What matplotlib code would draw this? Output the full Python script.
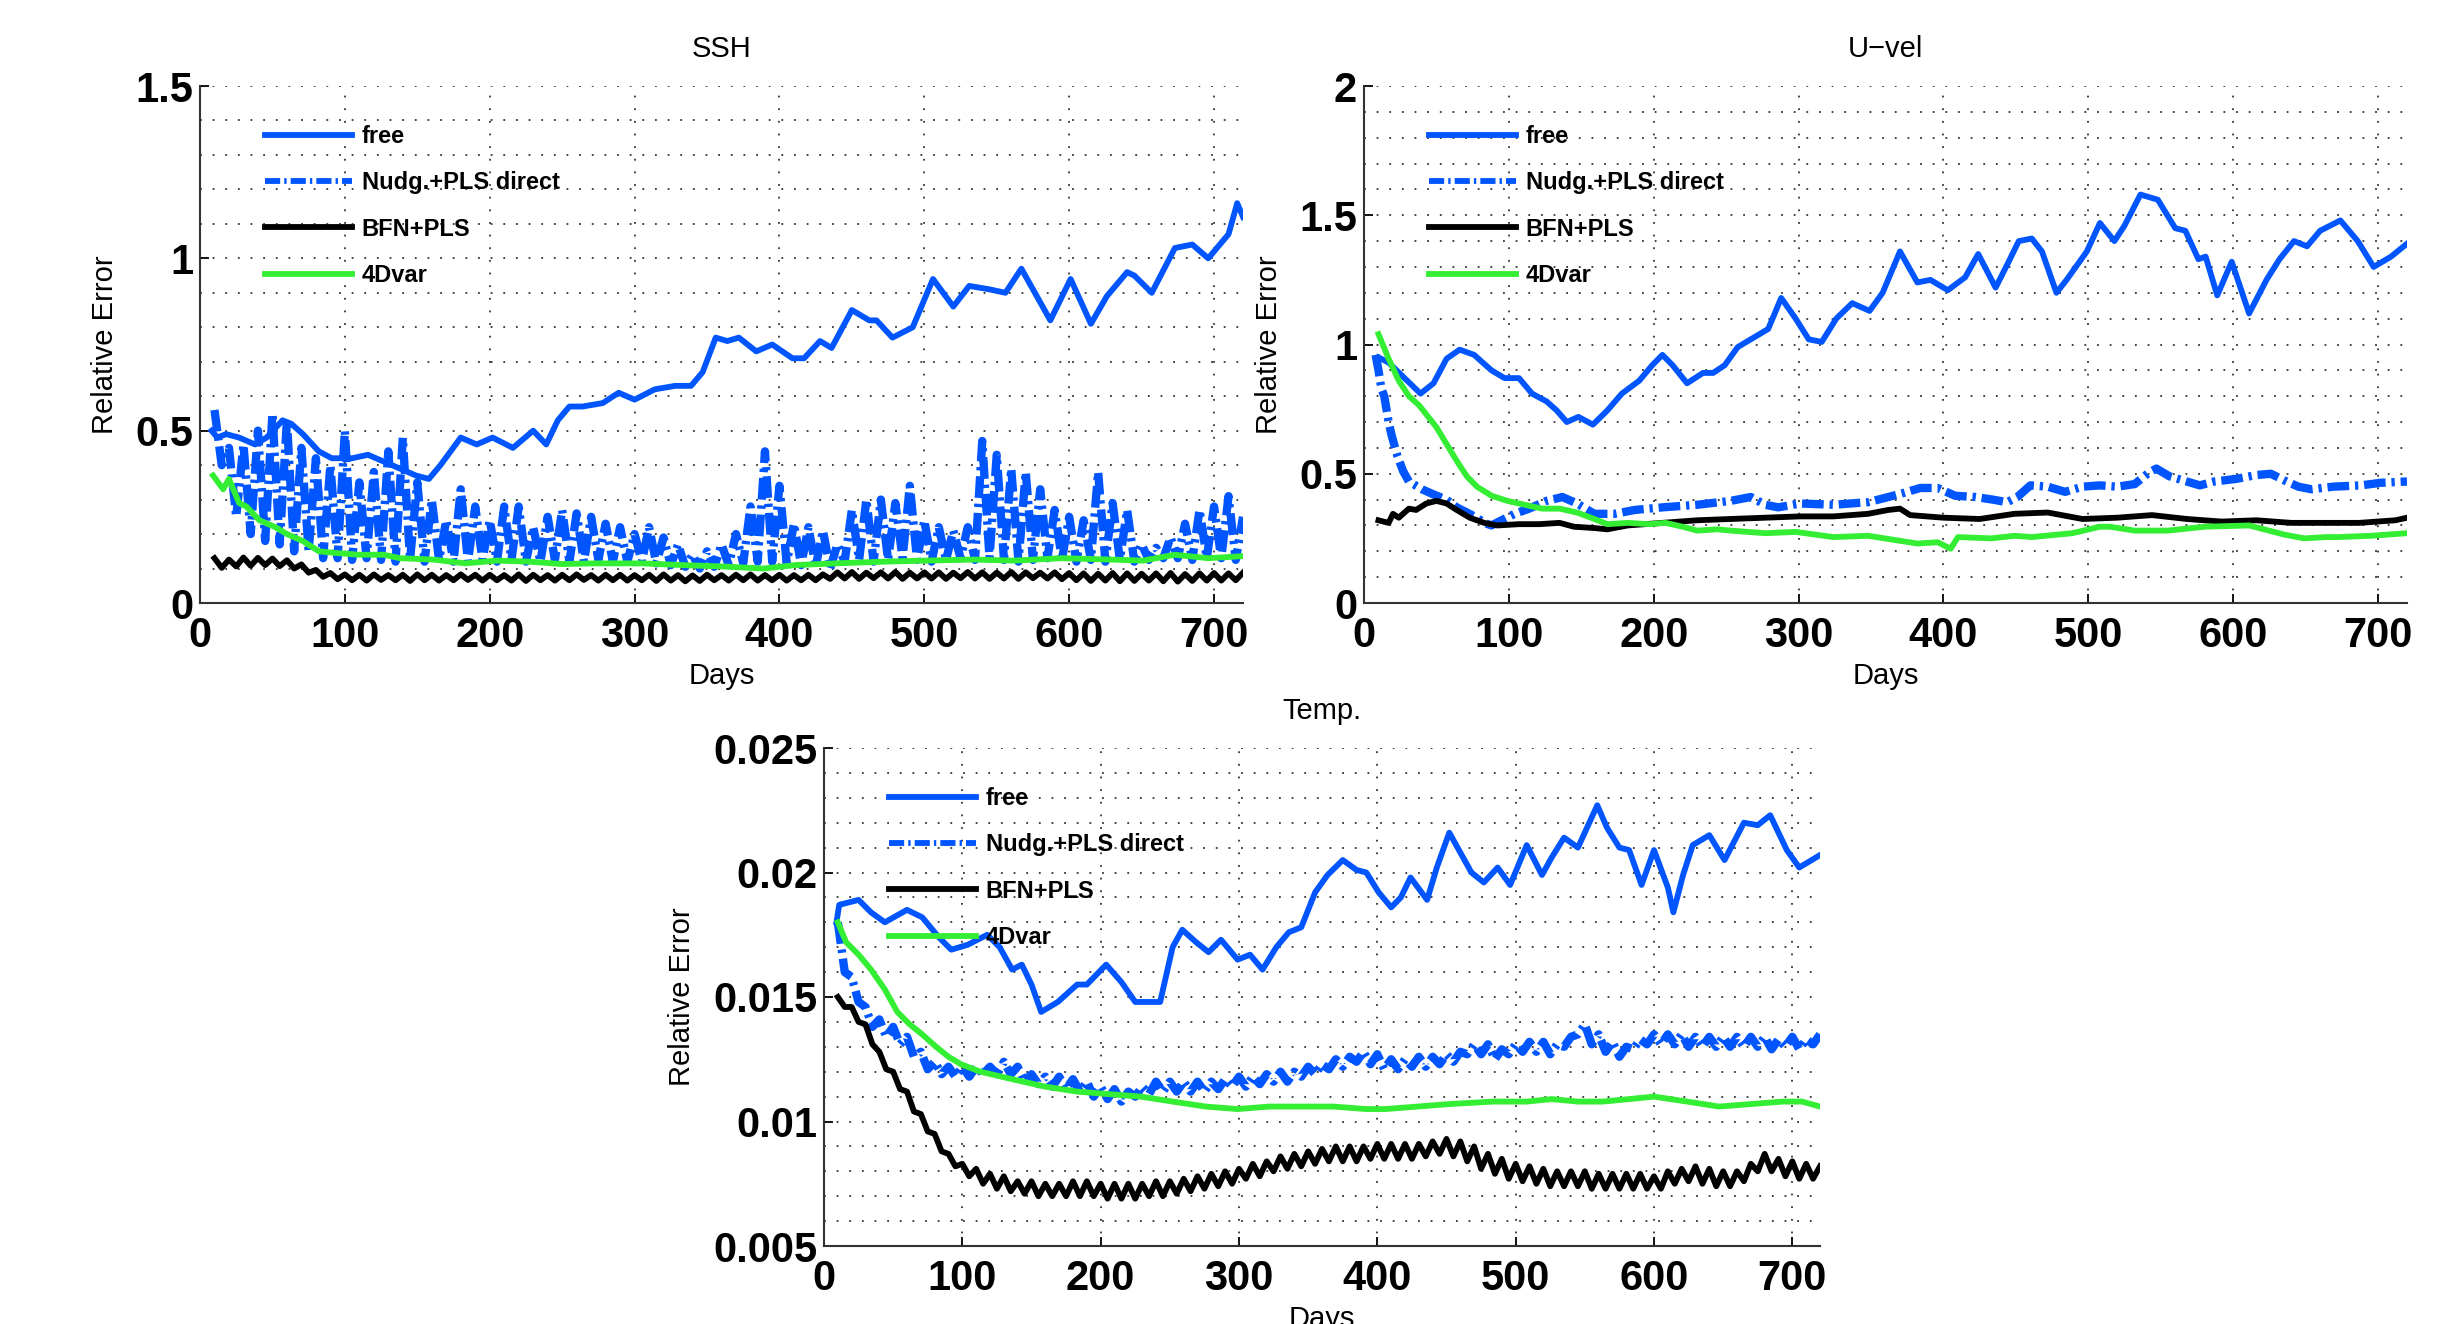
# plot.py
# Relative error of SSH, U-vel and Temp for four assimilation runs

import numpy as np
import matplotlib
matplotlib.use("Agg")
import matplotlib.pyplot as plt
from matplotlib.ticker import MultipleLocator

plt.rcParams['font.family'] = ['Liberation Sans', 'DejaVu Sans']

# === Data ===
# noisy runs are given as peaks (day 10, 20, ...) and troughs (day 15, 25, ...)
peak_days = np.arange(10, 721, 10)
trough_days = np.arange(15, 716, 10)

# --- SSH ---
ssh_free_days = [8, 12, 18, 27, 38, 46, 57, 63, 71, 82, 91, 105, 116, 127, 138, 149, 158, 166, 180, 191,
                 202, 216, 230, 239, 247, 255, 264, 278, 289, 300, 314, 328, 339, 347, 356, 364, 372, 384, 395, 409,
                 417, 428, 436, 450, 462, 467, 478, 492, 506, 520, 531, 545, 556, 567, 579, 587, 601, 615, 626, 640,
                 645, 657, 673, 685, 696, 710, 716, 720]
ssh_free = [0.50, 0.48, 0.49, 0.48, 0.46, 0.48, 0.53, 0.52, 0.49, 0.44, 0.42, 0.42, 0.43, 0.41, 0.39, 0.37, 0.36, 0.40, 0.48, 0.46,
            0.48, 0.45, 0.50, 0.46, 0.53, 0.57, 0.57, 0.58, 0.61, 0.59, 0.62, 0.63, 0.63, 0.67, 0.77, 0.76, 0.77, 0.73, 0.75, 0.71,
            0.71, 0.76, 0.74, 0.85, 0.82, 0.82, 0.77, 0.80, 0.94, 0.86, 0.92, 0.91, 0.90, 0.97, 0.88, 0.82, 0.94, 0.81, 0.89, 0.96,
            0.95, 0.90, 1.03, 1.04, 1.00, 1.07, 1.16, 1.12]

ssh_nudg_peak = [0.56, 0.45, 0.46, 0.50, 0.55, 0.53, 0.45, 0.42, 0.40, 0.50,
                 0.35, 0.38, 0.44, 0.48, 0.35, 0.30, 0.24, 0.33, 0.28, 0.24,
                 0.28, 0.28, 0.22, 0.25, 0.27, 0.26, 0.25, 0.23, 0.22, 0.20,
                 0.22, 0.19, 0.17, 0.14, 0.15, 0.17, 0.20, 0.28, 0.44, 0.34,
                 0.23, 0.22, 0.21, 0.17, 0.27, 0.30, 0.30, 0.29, 0.34, 0.24,
                 0.22, 0.21, 0.22, 0.47, 0.43, 0.39, 0.38, 0.33, 0.27, 0.25,
                 0.24, 0.38, 0.29, 0.27, 0.17, 0.16, 0.19, 0.23, 0.27, 0.28,
                 0.31, 0.25]
ssh_nudg_trough = [0.40, 0.25, 0.20, 0.18, 0.17, 0.15, 0.15, 0.13, 0.13,
                   0.125, 0.13, 0.125, 0.12, 0.125, 0.12, 0.125, 0.12, 0.12, 0.125,
                   0.12, 0.125, 0.12, 0.12, 0.125, 0.12, 0.12, 0.125, 0.12, 0.12,
                   0.12, 0.115, 0.11, 0.105, 0.10, 0.105, 0.11, 0.115, 0.12, 0.12,
                   0.115, 0.11, 0.105, 0.10, 0.12, 0.125, 0.12, 0.125, 0.13, 0.125,
                   0.12, 0.125, 0.13, 0.125, 0.13, 0.125, 0.12, 0.125, 0.13, 0.125,
                   0.12, 0.125, 0.12, 0.125, 0.12, 0.125, 0.13, 0.13, 0.125, 0.13,
                   0.13, 0.125]

ssh_bfn_peak = [0.130, 0.126, 0.132, 0.131, 0.129, 0.124, 0.112, 0.096, 0.087, 0.083,
                0.082, 0.083, 0.081, 0.082, 0.083, 0.082, 0.081, 0.083, 0.082, 0.082,
                0.081, 0.083, 0.082, 0.081, 0.082, 0.083, 0.081, 0.082, 0.082, 0.081,
                0.082, 0.083, 0.081, 0.080, 0.082, 0.081, 0.082, 0.083, 0.081, 0.082,
                0.081, 0.082, 0.083, 0.089, 0.090, 0.088, 0.089, 0.090, 0.088, 0.089,
                0.089, 0.088, 0.090, 0.089, 0.088, 0.090, 0.089, 0.088, 0.089, 0.087,
                0.086, 0.085, 0.087, 0.086, 0.085, 0.086, 0.087, 0.084, 0.086, 0.087,
                0.086, 0.088]
ssh_bfn_trough = [0.102, 0.106, 0.108, 0.110, 0.107, 0.100, 0.088, 0.076, 0.069,
                  0.066, 0.065, 0.067, 0.066, 0.064, 0.066, 0.065, 0.066, 0.067, 0.065,
                  0.066, 0.065, 0.064, 0.066, 0.065, 0.066, 0.067, 0.065, 0.066, 0.065,
                  0.066, 0.064, 0.065, 0.063, 0.064, 0.066, 0.065, 0.066, 0.065, 0.066,
                  0.065, 0.066, 0.066, 0.070, 0.071, 0.070, 0.072, 0.071, 0.070, 0.071,
                  0.071, 0.070, 0.072, 0.071, 0.070, 0.071, 0.070, 0.072, 0.071, 0.069,
                  0.066, 0.064, 0.065, 0.063, 0.064, 0.065, 0.063, 0.062, 0.064, 0.065,
                  0.065, 0.066]

ssh_4dvar_days = [9, 16, 20, 27, 32, 41, 52, 60, 71, 82, 94, 110, 127, 138, 161, 183, 205, 227, 250, 272,
                  305, 333, 361, 389, 411, 439, 473, 501, 534, 562, 595, 629, 651, 673, 696, 720]
ssh_4dvar = [0.37, 0.33, 0.36, 0.29, 0.28, 0.24, 0.22, 0.20, 0.18, 0.15, 0.145, 0.14, 0.14, 0.13, 0.126, 0.115, 0.123, 0.12, 0.113, 0.115,
             0.115, 0.11, 0.106, 0.10, 0.11, 0.115, 0.12, 0.123, 0.126, 0.123, 0.13, 0.126, 0.123, 0.14, 0.13, 0.136]

# --- U-vel ---
u_free_days = [10, 17, 28, 39, 48, 57, 66, 76, 88, 97, 107, 116, 126, 133, 140, 148, 158, 168, 178, 190,
               199, 206, 213, 223, 234, 241, 249, 258, 270, 279, 288, 298, 307, 316, 326, 337, 349, 358, 370, 382,
               391, 403, 415, 424, 436, 445, 452, 461, 468, 478, 485, 499, 508, 518, 525, 536, 548, 560, 567, 576,
               581, 589, 599, 611, 623, 632, 642, 651, 660, 674, 686, 697, 709, 720]
u_free = [0.95, 0.93, 0.87, 0.81, 0.85, 0.945, 0.98, 0.96, 0.90, 0.87, 0.87, 0.81, 0.78, 0.745, 0.70, 0.72, 0.69, 0.745, 0.81, 0.86,
          0.92, 0.96, 0.92, 0.85, 0.89, 0.89, 0.92, 0.99, 1.03, 1.06, 1.18, 1.10, 1.02, 1.01, 1.10, 1.16, 1.13, 1.20, 1.36, 1.24,
          1.25, 1.21, 1.26, 1.35, 1.22, 1.32, 1.40, 1.41, 1.36, 1.20, 1.25, 1.36, 1.47, 1.40, 1.46, 1.58, 1.56, 1.45, 1.44, 1.33,
          1.34, 1.19, 1.32, 1.12, 1.25, 1.33, 1.40, 1.38, 1.44, 1.48, 1.40, 1.30, 1.34, 1.39]

u_nudg_days = [8, 10, 12, 14, 17, 19, 23, 27, 31, 40, 48, 57, 64, 71, 78, 83, 88, 95, 104, 114,
               126, 137, 147, 159, 173, 187, 206, 230, 253, 267, 277, 286, 301, 324, 348, 362, 372, 384, 396, 408,
               422, 434, 444, 451, 460, 472, 484, 496, 508, 520, 532, 542, 547, 556, 568, 577, 587, 602, 616, 626,
               635, 645, 654, 669, 688, 702, 720]
u_nudg = [0.96, 0.90, 0.83, 0.80, 0.70, 0.65, 0.57, 0.51, 0.47, 0.44, 0.42, 0.40, 0.37, 0.35, 0.33, 0.31, 0.30, 0.32, 0.345, 0.365,
          0.395, 0.41, 0.385, 0.345, 0.345, 0.36, 0.37, 0.38, 0.395, 0.41, 0.38, 0.37, 0.385, 0.38, 0.39, 0.41, 0.425, 0.445, 0.445, 0.415,
          0.41, 0.40, 0.39, 0.41, 0.455, 0.45, 0.43, 0.45, 0.455, 0.45, 0.46, 0.505, 0.52, 0.49, 0.47, 0.455, 0.47, 0.48, 0.495, 0.50,
          0.475, 0.45, 0.44, 0.45, 0.455, 0.465, 0.47]

u_bfn_days = [10, 17, 20, 24, 31, 36, 43, 50, 57, 64, 73, 83, 92, 107, 121, 135, 145, 159, 168, 182,
              206, 230, 253, 277, 301, 324, 348, 362, 370, 377, 400, 425, 449, 472, 496, 520, 544, 568, 592, 616,
              640, 664, 687, 712, 720]
u_bfn = [0.32, 0.31, 0.345, 0.33, 0.365, 0.36, 0.385, 0.395, 0.385, 0.36, 0.33, 0.31, 0.30, 0.305, 0.305, 0.31, 0.295, 0.29, 0.285, 0.30,
         0.31, 0.32, 0.325, 0.33, 0.335, 0.335, 0.345, 0.36, 0.365, 0.34, 0.33, 0.325, 0.345, 0.35, 0.325, 0.33, 0.34, 0.325, 0.315, 0.32,
         0.31, 0.31, 0.31, 0.32, 0.33]

u_4dvar_days = [10, 17, 24, 31, 38, 43, 50, 57, 64, 71, 78, 88, 99, 111, 123, 135, 147, 159, 168, 182,
                197, 208, 220, 230, 244, 253, 277, 298, 324, 348, 365, 382, 396, 405, 410, 433, 449, 461, 489, 508,
                515, 532, 555, 580, 611, 635, 649, 664, 672, 695, 720]
u_4dvar = [1.04, 0.945, 0.86, 0.80, 0.765, 0.73, 0.68, 0.615, 0.55, 0.49, 0.45, 0.415, 0.395, 0.38, 0.365, 0.365, 0.35, 0.325, 0.305, 0.31,
           0.305, 0.31, 0.295, 0.28, 0.285, 0.28, 0.27, 0.275, 0.255, 0.26, 0.245, 0.23, 0.235, 0.21, 0.255, 0.25, 0.26, 0.255, 0.27, 0.295,
           0.295, 0.28, 0.28, 0.295, 0.30, 0.265, 0.25, 0.255, 0.255, 0.26, 0.27]

# --- Temp. ---
t_free_days = [9, 11, 25, 34, 44, 60, 71, 83, 92, 104, 118, 127, 136, 143, 150, 157, 169, 183, 190, 204,
               215, 225, 234, 243, 252, 259, 269, 278, 287, 299, 308, 317, 327, 336, 345, 355, 364, 375, 385, 392,
               401, 410, 417, 424, 436, 443, 452, 461, 468, 477, 487, 496, 508, 519, 526, 535, 545, 559, 566, 575,
               582, 591, 600, 610, 614, 621, 628, 640, 651, 665, 675, 684, 696, 705, 714, 720]
t_free = [0.0180, 0.0187, 0.0189, 0.0184, 0.0180, 0.0185, 0.0182, 0.0174, 0.0169, 0.0171,
          0.0175, 0.0170, 0.0161, 0.0163, 0.0155, 0.0144, 0.0148, 0.0155, 0.0155, 0.0163,
          0.0156, 0.0148, 0.0148, 0.0148, 0.0170, 0.0177, 0.0172, 0.0168, 0.0173, 0.0165,
          0.0167, 0.0161, 0.0170, 0.0176, 0.0178, 0.0192, 0.0199, 0.0205, 0.0201, 0.0200,
          0.0192, 0.0186, 0.0190, 0.0198, 0.0189, 0.0202, 0.0216, 0.0207, 0.0200, 0.0196,
          0.0202, 0.0195, 0.0211, 0.0199, 0.0206, 0.0214, 0.0210, 0.0227, 0.0218, 0.0210,
          0.0209, 0.0195, 0.0209, 0.0194, 0.0184, 0.0199, 0.0211, 0.0215, 0.0205, 0.0220,
          0.0219, 0.0223, 0.0209, 0.0202, 0.0205, 0.0207]

t_nudg_peak = [0.0180, 0.0158, 0.0146, 0.0141, 0.0138, 0.0134, 0.0128, 0.0124, 0.0122, 0.0122,
               0.0122, 0.0122, 0.0124, 0.0122, 0.0119, 0.0118, 0.0118, 0.0117, 0.0116, 0.0114,
               0.0113, 0.0112, 0.0114, 0.0116, 0.0116, 0.0116, 0.0116, 0.0116, 0.0117, 0.0118,
               0.0118, 0.0119, 0.0120, 0.0120, 0.0122, 0.0123, 0.0125, 0.0126, 0.0128, 0.0127,
               0.0125, 0.0125, 0.0126, 0.0126, 0.0127, 0.0128, 0.0131, 0.0131, 0.0129, 0.0131,
               0.0132, 0.0132, 0.0131, 0.0134, 0.0139, 0.0135, 0.0132, 0.0130, 0.0133, 0.0135,
               0.0135, 0.0135, 0.0134, 0.0134, 0.0134, 0.0134, 0.0134, 0.0134, 0.0133, 0.0134,
               0.0133, 0.0135]
t_nudg_trough = [0.0160, 0.0148, 0.0138, 0.0134, 0.0131, 0.0126, 0.0121, 0.0119, 0.0118,
                 0.0118, 0.0119, 0.0119, 0.0119, 0.0116, 0.0115, 0.0114, 0.0113, 0.0112, 0.0110,
                 0.0109, 0.0108, 0.0110, 0.0111, 0.0112, 0.0112, 0.0112, 0.0112, 0.0113, 0.0114,
                 0.0114, 0.0115, 0.0116, 0.0116, 0.0118, 0.0119, 0.0121, 0.0122, 0.0124, 0.0123,
                 0.0121, 0.0121, 0.0122, 0.0122, 0.0123, 0.0124, 0.0127, 0.0127, 0.0125, 0.0127,
                 0.0128, 0.0128, 0.0127, 0.0130, 0.0135, 0.0131, 0.0128, 0.0126, 0.0129, 0.0131,
                 0.0131, 0.0131, 0.0130, 0.0130, 0.0130, 0.0130, 0.0130, 0.0130, 0.0129, 0.0130,
                 0.0129, 0.0131]

t_bfn_peak = [0.0150, 0.0146, 0.0139, 0.0128, 0.0120, 0.0112, 0.0103, 0.0095, 0.0087, 0.0083,
              0.0081, 0.0079, 0.0078, 0.0076, 0.0076, 0.0075, 0.0075, 0.0076, 0.0076, 0.0075,
              0.0075, 0.0075, 0.0075, 0.0076, 0.0076, 0.0077, 0.0078, 0.0079, 0.0080, 0.0081,
              0.0083, 0.0084, 0.0086, 0.0087, 0.0088, 0.0089, 0.0090, 0.0090, 0.0090, 0.0091,
              0.0091, 0.0091, 0.0091, 0.0092, 0.0093, 0.0092, 0.0090, 0.0087, 0.0085, 0.0083,
              0.0082, 0.0081, 0.0080, 0.0080, 0.0080, 0.0079, 0.0079, 0.0079, 0.0079, 0.0078,
              0.0080, 0.0081, 0.0082, 0.0081, 0.0080, 0.0080, 0.0083, 0.0087, 0.0085, 0.0084,
              0.0083, 0.0082]
t_bfn_trough = [0.0146, 0.0140, 0.0131, 0.0121, 0.0113, 0.0104, 0.0096, 0.0088, 0.0082,
                0.0078, 0.0075, 0.0073, 0.0072, 0.0071, 0.0070, 0.0070, 0.0070, 0.0070, 0.0070,
                0.0069, 0.0069, 0.0069, 0.0070, 0.0070, 0.0071, 0.0072, 0.0073, 0.0074, 0.0075,
                0.0077, 0.0078, 0.0080, 0.0081, 0.0082, 0.0083, 0.0084, 0.0084, 0.0084, 0.0085,
                0.0085, 0.0085, 0.0085, 0.0086, 0.0087, 0.0086, 0.0084, 0.0081, 0.0079, 0.0077,
                0.0076, 0.0075, 0.0074, 0.0074, 0.0074, 0.0073, 0.0073, 0.0073, 0.0073, 0.0073,
                0.0073, 0.0075, 0.0076, 0.0075, 0.0074, 0.0074, 0.0076, 0.0080, 0.0080, 0.0078,
                0.0077, 0.0077]

t_4dvar_days = [10, 16, 25, 34, 44, 53, 62, 71, 81, 90, 99, 113, 136, 160, 183, 206, 229, 252, 276, 299,
                322, 345, 368, 392, 406, 429, 452, 484, 508, 526, 545, 563, 582, 600, 624, 647, 670, 693, 707, 720]
t_4dvar = [0.0180, 0.0172, 0.0167, 0.0161, 0.0153, 0.0144, 0.0139, 0.0135, 0.0130, 0.0126,
           0.0123, 0.0120, 0.0117, 0.0114, 0.0112, 0.0111, 0.0110, 0.0108, 0.0106, 0.0105,
           0.0106, 0.0106, 0.0106, 0.0105, 0.0105, 0.0106, 0.0107, 0.0108, 0.0108, 0.0109,
           0.0108, 0.0108, 0.0109, 0.0110, 0.0108, 0.0106, 0.0107, 0.0108, 0.0108, 0.0106]

# === Style ===
BLUE = '#0055ff'
GREEN = '#33ee33'
LW = 4.2
NUDG_DASH = (0, (2.6, 0.7, 0.4, 0.7))
GRID = dict(color='0.2', linestyle=(0, (1, 6)), linewidth=1.3)
FIG_W, FIG_H = 2463, 1324


def zigzag(peaks, troughs):
    days = np.concatenate([peak_days, trough_days])
    vals = np.concatenate([peaks, troughs])
    order = np.argsort(days)
    return days[order], vals[order]


def draw_panel(rect, title, free, nudg, bfn, var4d, ylim, yticks, ylabels, minor):
    ax = fig.add_axes(rect)
    ax.plot(*free, color=BLUE, lw=LW, label='free')
    ax.plot(*nudg, color=BLUE, lw=LW + 1.8, ls=NUDG_DASH, label='Nudg.+PLS direct')
    ax.plot(*bfn, color='black', lw=LW, label='BFN+PLS')
    ax.plot(*var4d, color=GREEN, lw=LW, label='4Dvar')

    ax.set_xlim(0, 720)
    ax.set_xticks(range(0, 701, 100))
    ax.set_ylim(*ylim)
    ax.set_yticks(yticks)
    ax.set_yticklabels(ylabels)
    ax.yaxis.set_minor_locator(MultipleLocator(minor))
    ax.grid(True, which='major', axis='x', **GRID)
    ax.grid(True, which='both', axis='y', **GRID)

    ax.tick_params(which='major', direction='in', length=6.5, width=1.3, labelsize=30)
    ax.tick_params(axis='x', pad=9)
    ax.tick_params(axis='y', pad=5)
    ax.tick_params(which='minor', length=0)
    for lab in ax.get_xticklabels() + ax.get_yticklabels():
        lab.set_fontweight('bold')
    for side in ['top', 'right']:
        ax.spines[side].set_visible(False)
    for side in ['left', 'bottom']:
        ax.spines[side].set_color('0.2')
        ax.spines[side].set_linewidth(1.5)

    ax.set_title(title, fontsize=21, pad=21)
    ax.set_xlabel('Days', fontsize=21, labelpad=5)
    ax.set_ylabel('Relative Error', fontsize=21, labelpad=12)

    w_px, h_px = rect[2] * FIG_W, rect[3] * FIG_H
    leg = ax.legend(loc='upper left', bbox_to_anchor=(65 / w_px, 1 - 39 / h_px),
                    frameon=False, prop={'weight': 'bold', 'size': 17},
                    handlelength=3.7, handletextpad=0.4, labelspacing=0.99,
                    borderpad=0, borderaxespad=0)
    for line in leg.get_lines():
        line.set_linewidth(LW)
    return ax


# === Figure ===
fig = plt.figure(figsize=(FIG_W / 100, FIG_H / 100), dpi=100)

draw_panel([200 / FIG_W, 1 - 603 / FIG_H, 1043 / FIG_W, 517 / FIG_H], 'SSH',
           (ssh_free_days, ssh_free), zigzag(ssh_nudg_peak, ssh_nudg_trough),
           zigzag(ssh_bfn_peak, ssh_bfn_trough), (ssh_4dvar_days, ssh_4dvar),
           (0, 1.5), [0, 0.5, 1, 1.5], ['0', '0.5', '1', '1.5'], 0.1)

draw_panel([1364 / FIG_W, 1 - 603 / FIG_H, 1043 / FIG_W, 517 / FIG_H], 'U\u2212vel',
           (u_free_days, u_free), (u_nudg_days, u_nudg),
           (u_bfn_days, u_bfn), (u_4dvar_days, u_4dvar),
           (0, 2), [0, 0.5, 1, 1.5, 2], ['0', '0.5', '1', '1.5', '2'], 0.1)

draw_panel([824 / FIG_W, 1 - 1246 / FIG_H, 996 / FIG_W, 498 / FIG_H], 'Temp.',
           (t_free_days, t_free), zigzag(t_nudg_peak, t_nudg_trough),
           zigzag(t_bfn_peak, t_bfn_trough), (t_4dvar_days, t_4dvar),
           (0.005, 0.025), [0.005, 0.01, 0.015, 0.02, 0.025],
           ['0.005', '0.01', '0.015', '0.02', '0.025'], 0.001)

fig.savefig('out.png', dpi=100)
